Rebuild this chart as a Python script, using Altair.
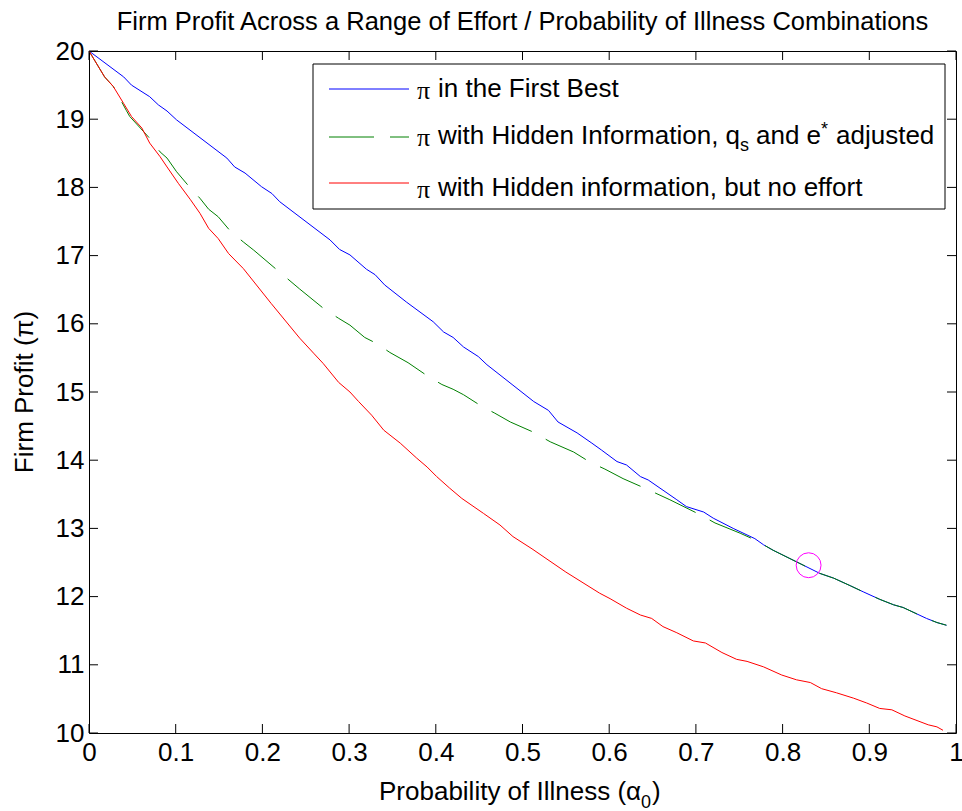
import altair as alt
import pandas as pd

# ---------------- data ----------------
blue_a = [0, 0.040, 0.049, 0.070, 0.080, 0.090, 0.101, 0.159, 0.168, 0.180, 0.199, 0.211, 0.220, 0.278,
          0.289, 0.301, 0.320, 0.330, 0.341, 0.366, 0.397, 0.409, 0.420, 0.432, 0.449, 0.459, 0.489, 0.513,
          0.530, 0.541, 0.563, 0.580, 0.591, 0.609, 0.620, 0.636, 0.645, 0.678, 0.689, 0.709, 0.720, 0.743,
          0.768, 0.778, 0.789, 0.816, 0.843, 0.859, 0.878, 0.893, 0.912, 0.928, 0.939, 0.966, 0.978, 0.989]
blue_v = [20, 19.62, 19.50, 19.33, 19.21, 19.12, 18.99, 18.43, 18.30, 18.21, 18.01, 17.91, 17.79, 17.23,
          17.09, 17.01, 16.80, 16.72, 16.57, 16.32, 16.03, 15.88, 15.80, 15.66, 15.52, 15.40, 15.10, 14.86,
          14.73, 14.56, 14.40, 14.25, 14.15, 13.98, 13.93, 13.76, 13.71, 13.42, 13.32, 13.24, 13.15, 13.00,
          12.85, 12.76, 12.68, 12.51, 12.34, 12.27, 12.16, 12.07, 11.96, 11.88, 11.84, 11.68, 11.62, 11.58]

green_a = [0, 0.018, 0.028, 0.043, 0.047, 0.070, 0.082, 0.090, 0.101, 0.115, 0.128, 0.138, 0.149, 0.163,
           0.178, 0.190, 0.215, 0.243, 0.272, 0.288, 0.301, 0.318, 0.332, 0.347, 0.368, 0.391, 0.407, 0.420,
           0.432, 0.453, 0.468, 0.486, 0.511, 0.532, 0.559, 0.578, 0.595, 0.616, 0.641, 0.670, 0.705, 0.722,
           0.751, 0.770, 0.778, 0.789, 0.816, 0.843, 0.859, 0.878, 0.893, 0.912, 0.928, 0.939, 0.966, 0.978, 0.989]
green_v = [20, 19.62, 19.48, 19.13, 19.04, 18.72, 18.52, 18.43, 18.23, 18.02, 17.84, 17.68, 17.57, 17.36,
           17.20, 17.08, 16.81, 16.51, 16.21, 16.08, 15.98, 15.80, 15.71, 15.58, 15.43, 15.23, 15.11, 15.04,
           14.96, 14.79, 14.69, 14.56, 14.42, 14.27, 14.12, 13.97, 13.87, 13.73, 13.59, 13.42, 13.20, 13.08,
           12.93, 12.82, 12.76, 12.68, 12.51, 12.34, 12.27, 12.16, 12.07, 11.96, 11.88, 11.84, 11.68, 11.62, 11.58]

red_a = [0, 0.018, 0.028, 0.040, 0.049, 0.061, 0.070, 0.082, 0.090, 0.103, 0.117, 0.128, 0.138, 0.149,
         0.161, 0.178, 0.210, 0.243, 0.259, 0.270, 0.288, 0.301, 0.311, 0.326, 0.340, 0.359, 0.378, 0.390,
         0.401, 0.416, 0.430, 0.455, 0.474, 0.489, 0.511, 0.550, 0.589, 0.601, 0.620, 0.636, 0.649, 0.662,
         0.678, 0.697, 0.711, 0.730, 0.747, 0.759, 0.778, 0.799, 0.816, 0.832, 0.845, 0.862, 0.882, 0.897,
         0.912, 0.926, 0.941, 0.968, 0.978, 0.985]
red_v = [20, 19.62, 19.48, 19.23, 19.04, 18.87, 18.65, 18.45, 18.30, 18.06, 17.82, 17.62, 17.40, 17.25,
         17.03, 16.81, 16.30, 15.79, 15.57, 15.42, 15.14, 15.00, 14.86, 14.66, 14.44, 14.25, 14.03, 13.90,
         13.76, 13.59, 13.44, 13.22, 13.05, 12.88, 12.70, 12.36, 12.05, 11.97, 11.83, 11.73, 11.68, 11.56,
         11.47, 11.35, 11.32, 11.18, 11.08, 11.05, 10.97, 10.85, 10.78, 10.74, 10.65, 10.59, 10.51, 10.44,
         10.36, 10.34, 10.25, 10.12, 10.09, 10.04]

marker_a = [0.83]
marker_v = [12.46]

xtick_vals = [0, 0.1, 0.2, 0.3, 0.4, 0.5, 0.6, 0.7, 0.8, 0.9, 1]
ytick_vals = [10, 11, 12, 13, 14, 15, 16, 17, 18, 19, 20]

title_text = "Firm Profit Across a Range of Effort / Probability of Illness Combinations"
xlabel_parts = ["Probability of Illness (α", "0", ")"]
ylabel_text = "Firm Profit (π)"
legend_line1 = "in the First Best"
legend_line2_parts = ["with Hidden Information, q", "s", "and e", "*", "adjusted"]
legend_line3 = "with Hidden information, but no effort"

# ---------------- styling / layout ----------------
W, H = 867, 682
FONT = "Liberation Sans"
FS = 26
SMALL = 18

xs = alt.Scale(domain=[0, 1], nice=False, zero=False)
ys = alt.Scale(domain=[10, 20], nice=False, zero=False)
ax_x = alt.Axis(values=xtick_vals, format="~g", labelFlush=False, domain=False, ticks=False,
                grid=False, labelFont=FONT, labelFontSize=FS, labelColor="black", labelPadding=6,
                title=None)
ax_y = alt.Axis(values=ytick_vals, format="d", domain=False, ticks=False, grid=False,
                labelFont=FONT, labelFontSize=FS, labelColor="black", labelPadding=5, title=None)
one = pd.DataFrame({"k": [0]})


def X(field):
    return alt.X(field, scale=xs, axis=ax_x, title=None)


def Y(field):
    return alt.Y(field, scale=ys, axis=ax_y, title=None)


def series(a, v, color, dash=None):
    df = pd.DataFrame({"a": a, "v": v})
    kw = dict(color=color, strokeWidth=1, clip=True)
    if dash:
        kw["strokeDash"] = dash
    return alt.Chart(df).mark_line(**kw).encode(x=X("a:Q"), y=Y("v:Q"))


blue = series(blue_a, blue_v, "#0000ff")
green = series(green_a, green_v, "#008000", dash=[45, 16])
red = series(red_a, red_v, "#ff0000")

marker = alt.Chart(pd.DataFrame({"a": marker_a, "v": marker_v})).mark_point(
    shape="circle", size=620, filled=False, color="#ff00ff", strokeWidth=1, opacity=1
).encode(x=X("a:Q"), y=Y("v:Q"))

xt = pd.DataFrame({"t": xtick_vals})
yt = pd.DataFrame({"t": ytick_vals})
TL = 9
tick_b = alt.Chart(xt).mark_rule(color="black", strokeWidth=1).encode(
    x=X("t:Q"), y=alt.value(H), y2=alt.value(H - TL))
tick_t = alt.Chart(xt).mark_rule(color="black", strokeWidth=1).encode(
    x=X("t:Q"), y=alt.value(0), y2=alt.value(TL))
tick_l = alt.Chart(yt).mark_rule(color="black", strokeWidth=1).encode(
    y=Y("t:Q"), x=alt.value(0), x2=alt.value(TL))
tick_r = alt.Chart(yt).mark_rule(color="black", strokeWidth=1).encode(
    y=Y("t:Q"), x=alt.value(W), x2=alt.value(W - TL))


def txt(s, x, y, size=FS, font=FONT, align="left", angle=None):
    kw = dict(text=s, font=font, fontSize=size, color="black", align=align, baseline="alphabetic")
    if angle is not None:
        kw["angle"] = angle
        kw["baseline"] = "middle"
    return alt.Chart(one).mark_text(**kw).encode(x=alt.value(x), y=alt.value(y))


# legend
leg_box = alt.Chart(one).mark_rect(fill="white", stroke="black", strokeWidth=1).encode(
    x=alt.value(224), x2=alt.value(856), y=alt.value(13), y2=alt.value(158))
leg_l1 = alt.Chart(one).mark_rule(color="#0000ff", strokeWidth=1).encode(
    x=alt.value(240), x2=alt.value(320), y=alt.value(38))
leg_l2 = alt.Chart(one).mark_rule(color="#008000", strokeWidth=1, strokeDash=[45, 16]).encode(
    x=alt.value(240), x2=alt.value(320), y=alt.value(86))
leg_l3 = alt.Chart(one).mark_rule(color="#ff0000", strokeWidth=1).encode(
    x=alt.value(240), x2=alt.value(320), y=alt.value(132))

PI_FONT = "Liberation Serif"
leg_texts = [
    txt("π", 328, 48, font=PI_FONT), txt(legend_line1, 349, 46),
    txt("π", 328, 95, font=PI_FONT), txt(legend_line2_parts[0], 349, 93),
    txt(legend_line2_parts[1], 651, 100, size=SMALL),
    txt(legend_line2_parts[2], 667, 93),
    txt(legend_line2_parts[3], 732, 84, size=SMALL),
    txt(legend_line2_parts[4], 747, 93),
    txt("π", 328, 147, font=PI_FONT), txt(legend_line3, 349, 145),
]

title = txt(title_text, W / 2, -21, size=25.5, align="center")
xlab = [txt(xlabel_parts[0], 290, 749), txt(xlabel_parts[1], 552, 757, size=SMALL),
        txt(xlabel_parts[2], 563, 749)]
ylab = txt(ylabel_text, -64, H / 2, align="center", angle=270)

chart = alt.layer(
    blue, green, red, marker, tick_b, tick_t, tick_l, tick_r,
    leg_box, leg_l1, leg_l2, leg_l3, *leg_texts, title, *xlab, ylab
).properties(
    width=W, height=H, autosize=alt.AutoSizeParams(type="none"),
    padding={"left": 89, "top": 51, "right": 6, "bottom": 78},
    background="white"
).configure_view(stroke="black", strokeWidth=1)

chart.save("out.html", embed_options={"renderer": "svg", "actions": False})
